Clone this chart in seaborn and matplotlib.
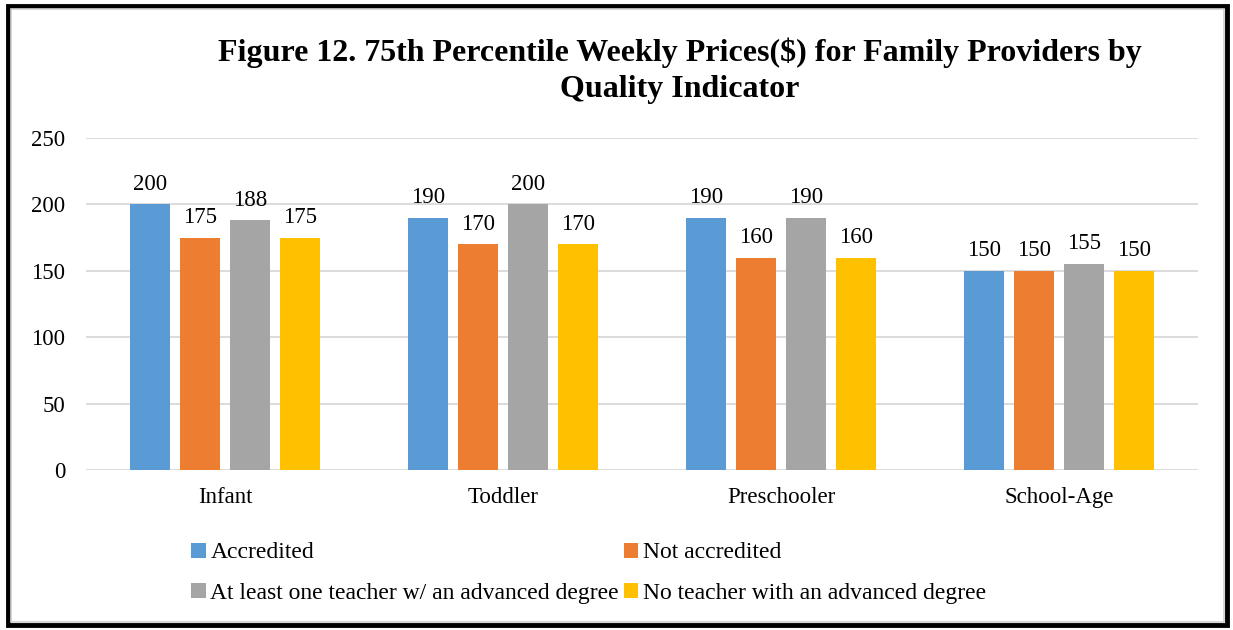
import pandas as pd
import seaborn as sns
import matplotlib.pyplot as plt
from matplotlib.patches import Rectangle

# Data
categories = ["Infant", "Toddler", "Preschooler", "School-Age"]
series = ["Accredited", "Not accredited",
          "At least one teacher w/ an advanced degree",
          "No teacher with an advanced degree"]
accredited = [200, 190, 190, 150]
not_accredited = [175, 170, 160, 150]
advanced_degree = [188, 200, 190, 155]
no_advanced_degree = [175, 170, 160, 150]
colors = ["#5B9BD5", "#ED7D31", "#A5A5A5", "#FFC000"]

df = pd.DataFrame({
    "category": categories * 4,
    "series": [s for s in series for _ in categories],
    "price": accredited + not_accredited + advanced_degree + no_advanced_degree,
})

sns.set_theme(style="white")
plt.rcParams["font.family"] = ["Liberation Serif", "DejaVu Serif"]
plt.rcParams["text.color"] = "black"

fig = plt.figure(figsize=(12.33, 6.3), dpi=100)
ax = fig.add_axes([86 / 1233, 1 - 470 / 630, 1112 / 1233, 332 / 630])

sns.barplot(data=df, x="category", y="price", hue="series", order=categories,
            hue_order=series, palette=colors, width=0.72, gap=0.2,
            saturation=1, linewidth=0, ax=ax, legend=True)

ax.set_ylim(0, 250)
ax.set_yticks(range(0, 251, 50))
ax.yaxis.grid(True, color="#D9D9D9", linewidth=1.3)
ax.set_axisbelow(True)
for s in ax.spines.values():
    s.set_visible(False)
ax.set_xlabel("")
ax.set_ylabel("")
ax.tick_params(axis="both", length=0, labelsize=16.5, colors="black")
ax.tick_params(axis="x", pad=12)
ax.tick_params(axis="y", pad=15)

for cont in ax.containers:
    ax.bar_label(cont, fmt="%d", padding=7, fontsize=16.5, color="black")

# Legend laid out as two rows
handles, labels = ax.get_legend_handles_labels()
order = [0, 2, 1, 3]
leg = ax.legend([handles[i] for i in order], [labels[i] for i in order],
                ncol=2, loc="upper left", bbox_to_anchor=(182 / 1233, 1 - 533 / 630),
                bbox_transform=fig.transFigure, frameon=False, fontsize=17,
                handlelength=0.6, handleheight=0.6, handletextpad=0.2,
                columnspacing=0.2, labelspacing=0.82, borderaxespad=0)
for t in leg.get_texts():
    t.set_color("black")

fig.text(680 / 1233, 1 - 71 / 630,
         "Figure 12. 75th Percentile Weekly Prices($) for Family Providers by\nQuality Indicator",
         ha="center", va="center", fontsize=23, fontweight="bold", linespacing=1.32,
         color="black")

# Outer frame
fig.patches.append(Rectangle((8 / 1233, 5 / 630), 1219 / 1233, 619 / 630,
                             transform=fig.transFigure, fill=False,
                             edgecolor="black", linewidth=3.5))
fig.patches.append(Rectangle((11 / 1233, 8 / 630), 1213 / 1233, 613 / 630,
                             transform=fig.transFigure, fill=False,
                             edgecolor="#D0D0D0", linewidth=1.2))

fig.savefig("out.png", dpi=100)
